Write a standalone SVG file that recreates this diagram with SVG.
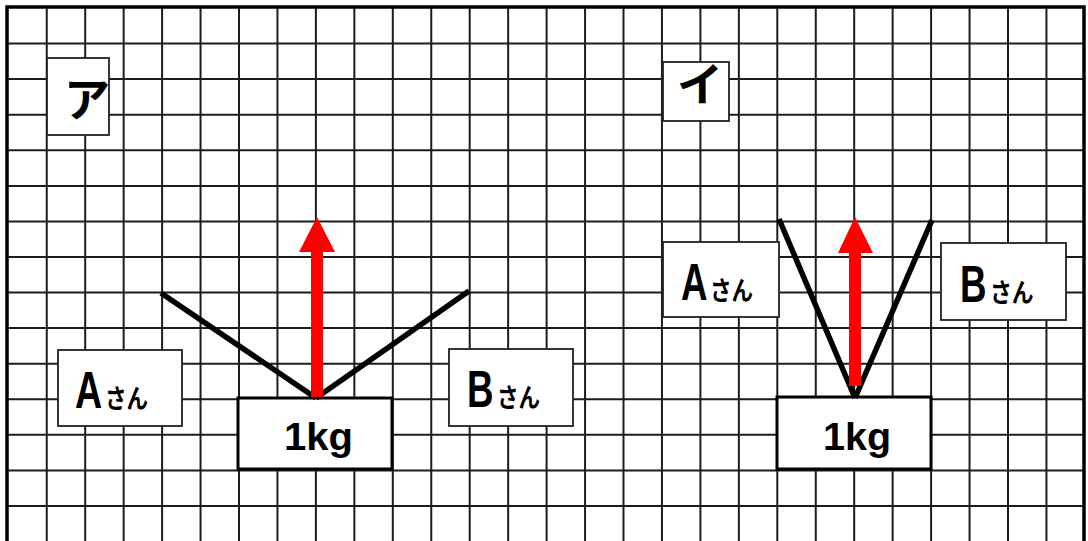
<svg xmlns="http://www.w3.org/2000/svg" width="1088" height="541" viewBox="0 0 1088 541">
<style>
.grid{stroke:#1c1c1c;stroke-width:2;fill:none}
.border{stroke:#000;stroke-width:3.5;fill:none}
.lbl{fill:#fff;stroke:#222;stroke-width:1.8}
.wt{fill:#fff;stroke:#000;stroke-width:3}
.kana{font-family:"Noto Sans CJK JP",sans-serif;font-weight:bold;font-size:46px;fill:#000;text-anchor:middle}
.big{font-family:"Liberation Sans",sans-serif;font-weight:bold;font-size:51px;fill:#000}
.small{font-family:"Noto Sans CJK JP",sans-serif;font-weight:bold;font-size:26px;fill:#000}
.kg{font-family:"Liberation Sans",sans-serif;font-weight:bold;font-size:38px;fill:#000}
.rope{stroke:#000;stroke-width:5.5;fill:none;stroke-linecap:butt}
.force{fill:#f00}
</style>
<rect x="0" y="0" width="1088" height="541" fill="#fff"/>
<g id="grid">
<path class="grid" d="M46.75,8V541M85.2,8V541M123.65,8V541M162.1,8V541M200.55,8V541M239,8V541M277.45,8V541M315.9,8V541M354.35,8V541M392.8,8V541M431.25,8V541M469.7,8V541M508.15,8V541M546.6,8V541M585.05,8V541M623.5,8V541M661.95,8V541M700.4,8V541M738.85,8V541M777.3,8V541M815.75,8V541M854.2,8V541M892.65,8V541M931.1,8V541M969.55,8V541M1008,8V541M1046.45,8V541"/>
<path class="grid" d="M8,43.6H1084M8,79.1H1084M8,114.7H1084M8,150.3H1084M8,185.9H1084M8,221.4H1084M8,257H1084M8,292.6H1084M8,328.1H1084M8,363.7H1084M8,399.3H1084M8,434.8H1084M8,470.4H1084M8,506H1084"/>
<path class="border" d="M7,541V7H1084V541"/>
</g>
<g id="label-a">
<rect class="lbl" x="47" y="58" width="62" height="77"/>
<text class="kana" x="87" y="116">ア</text>
</g>
<g id="label-i">
<rect class="lbl" x="663" y="62" width="66" height="59"/>
<text class="kana" x="700" y="101">イ</text>
</g>
<g id="a-san-left">
<rect class="lbl" x="58" y="350" width="124" height="76"/>
<text class="big" transform="translate(75,408) scale(0.74,1)">A</text>
<text class="small" transform="translate(105,408) scale(0.83,1)">さん</text>
</g>
<g id="b-san-left">
<rect class="lbl" x="449" y="349" width="124" height="77"/>
<text class="big" transform="translate(467,407) scale(0.72,1)">B</text>
<text class="small" transform="translate(497,407) scale(0.83,1)">さん</text>
</g>
<g id="a-san-right">
<rect class="lbl" x="663" y="242" width="116" height="75"/>
<text class="big" transform="translate(681,300) scale(0.72,1)">A</text>
<text class="small" transform="translate(710,300) scale(0.83,1)">さん</text>
</g>
<g id="b-san-right">
<rect class="lbl" x="941" y="243" width="125" height="77"/>
<text class="big" transform="translate(960,302) scale(0.72,1)">B</text>
<text class="small" transform="translate(990,302) scale(0.84,1)">さん</text>
</g>
<g id="weight-left">
<rect class="wt" x="238" y="398" width="154" height="71"/>
<text class="kg" x="284" y="450" textLength="69" lengthAdjust="spacingAndGlyphs">1kg</text>
</g>
<g id="weight-right">
<rect class="wt" x="777" y="397" width="154" height="72"/>
<text class="kg" x="823" y="450" textLength="68" lengthAdjust="spacingAndGlyphs">1kg</text>
</g>
<g id="connectors">
<path class="rope" d="M161,293L316,398"/>
<path class="rope" d="M316,398L469,291"/>
<path class="rope" d="M779,219L855,398"/>
<path class="rope" d="M855,398L932,220"/>
<rect class="force" x="311" y="251" width="12" height="146"/>
<polygon class="force" points="299,252 317,217 335,252"/>
<rect class="force" x="849" y="252" width="12" height="134"/>
<polygon class="force" points="838,253 855,217 873,253"/>
</g>
</svg>
